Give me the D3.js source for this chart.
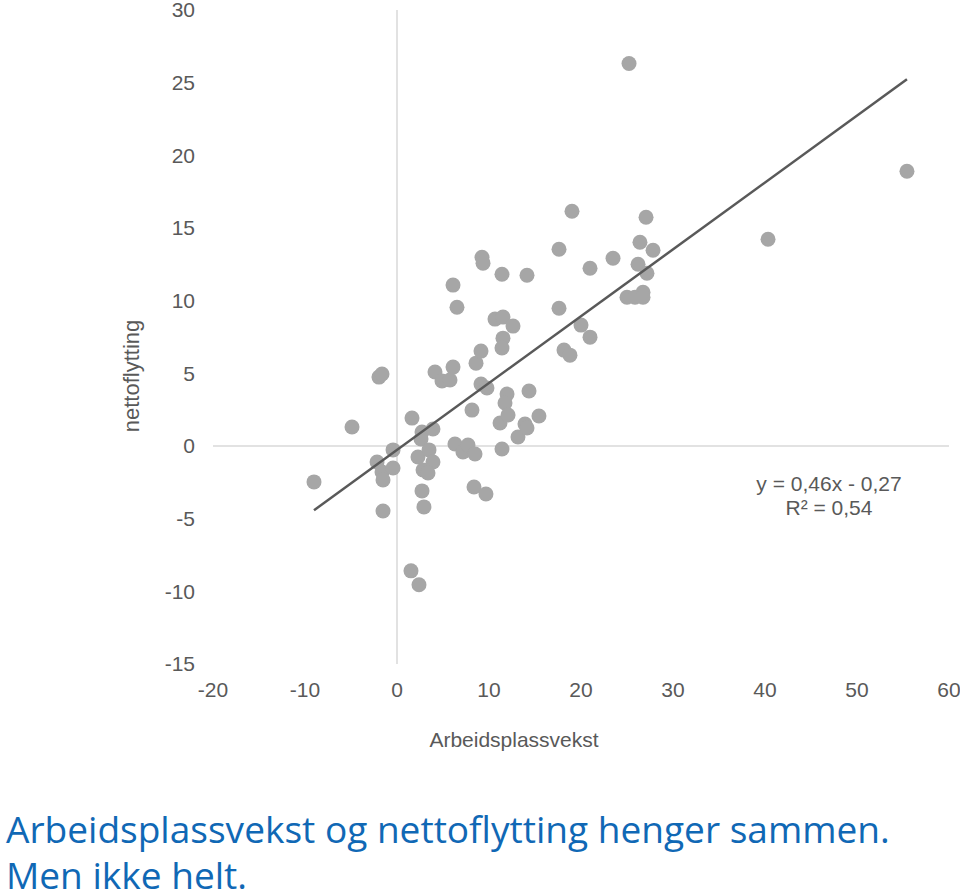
<!DOCTYPE html>
<html>
<head>
<meta charset="utf-8">
<script src="https://cdn.jsdelivr.net/npm/d3@7"></script>
<style>
  html, body { margin: 0; padding: 0; background: #fff; }
  svg { display: block; }
</style>
</head>
<body>
<svg id="chart" width="960" height="895"></svg>
<script>
// Data: Arbeidsplassvekst (x) vs nettoflytting (y)
const xValues = [-9.02,-4.89,-1.96,-1.63,-2.17,-1.63,-1.52,-1.52,-0.43,-0.43,1.63,1.52,2.39,2.28,2.72,2.61,3.91,3.48,3.91,2.83,3.37,2.72,2.93,4.13,4.89,5.76,6.09,6.30,7.17,7.72,8.48,8.37,9.67,11.41,11.20,13.15,8.15,9.13,9.78,8.59,9.13,11.96,11.74,12.07,14.35,15.43,13.91,14.13,11.52,11.41,10.65,11.52,12.61,6.52,6.09,9.24,9.35,11.41,14.13,17.61,19.02,17.61,18.15,18.80,20.0,20.98,20.98,23.48,25.0,25.87,26.74,26.74,26.20,27.17,26.41,27.07,27.83,25.22,40.33,55.43];
const yValues = [-2.47,1.31,4.74,4.95,-1.10,-1.79,-2.34,-4.47,-0.27,-1.51,1.92,-8.59,-9.55,-0.76,0.96,0.48,1.17,-0.27,-1.10,-1.65,-1.86,-3.09,-4.19,5.09,4.47,4.54,5.43,0.14,-0.41,0.07,-0.55,-2.82,-3.30,-0.21,1.58,0.62,2.47,4.26,3.99,5.70,6.53,3.57,2.96,2.13,3.78,2.06,1.51,1.24,7.42,6.74,8.73,8.87,8.25,9.55,11.07,12.99,12.58,11.82,11.75,13.54,16.15,9.48,6.60,6.25,8.32,7.49,12.23,12.92,10.24,10.24,10.58,10.24,12.51,11.89,14.02,15.74,13.47,26.32,14.23,18.90];
const xTicks = [-20,-10,0,10,20,30,40,50,60];
const yTicks = [-15,-10,-5,0,5,10,15,20,25,30];
const trendSlope = 0.46;
const trendIntercept = -0.27;
const equationLines = ["y = 0,46x - 0,27", "R² = 0,54"];
const xTitle = "Arbeidsplassvekst";
const yTitle = "nettoflytting";
const captionLines = ["Arbeidsplassvekst og nettoflytting henger sammen.", "Men ikke helt."];

const points = xValues.map((x, i) => ({x, y: yValues[i]}));

const svg = d3.select("#chart");
const font = "'Liberation Sans', Arial, sans-serif";
const textColor = "#595959";
const fsz = 21;

const x = d3.scaleLinear().domain([-20, 60]).range([213, 949]);
const y = d3.scaleLinear().domain([-15, 30]).range([664, 10]);

// zero axis lines
svg.append("line")
  .attr("x1", x(0)).attr("x2", x(0))
  .attr("y1", y(30)).attr("y2", y(-15))
  .attr("stroke", "#d9d9d9").attr("stroke-width", 1.5);
svg.append("line")
  .attr("x1", x(-20)).attr("x2", x(60))
  .attr("y1", y(0)).attr("y2", y(0))
  .attr("stroke", "#d9d9d9").attr("stroke-width", 1.5);

// Y tick labels
svg.append("g").selectAll("text").data(yTicks).join("text")
  .attr("x", 195)
  .attr("y", d => y(d))
  .attr("dy", "0.35em")
  .attr("text-anchor", "end")
  .attr("font-family", font)
  .attr("font-size", fsz)
  .attr("fill", textColor)
  .text(d => d);

// X tick labels
svg.append("g").selectAll("text").data(xTicks).join("text")
  .attr("x", d => x(d))
  .attr("y", 690)
  .attr("dy", "0.35em")
  .attr("text-anchor", "middle")
  .attr("font-family", font)
  .attr("font-size", fsz)
  .attr("fill", textColor)
  .text(d => d);

// Points
svg.append("g").selectAll("circle").data(points).join("circle")
  .attr("cx", d => x(d.x))
  .attr("cy", d => y(d.y))
  .attr("r", 7.5)
  .attr("fill", "#a6a6a6");

// Trend line
const xMin = d3.min(xValues), xMax = d3.max(xValues);
svg.append("line")
  .attr("x1", x(xMin)).attr("y1", y(trendSlope * xMin + trendIntercept))
  .attr("x2", x(xMax)).attr("y2", y(trendSlope * xMax + trendIntercept))
  .attr("stroke", "#595959").attr("stroke-width", 2.5);

// Equation
svg.append("g").selectAll("text").data(equationLines).join("text")
  .attr("x", 829)
  .attr("y", (d, i) => 484 + i * 24)
  .attr("dy", "0.35em")
  .attr("text-anchor", "middle")
  .attr("font-family", font)
  .attr("font-size", fsz)
  .attr("fill", textColor)
  .text(d => d);

// Axis titles
svg.append("text")
  .attr("x", 514).attr("y", 740).attr("dy", "0.35em")
  .attr("text-anchor", "middle")
  .attr("font-family", font).attr("font-size", fsz)
  .attr("fill", textColor)
  .text(xTitle);
svg.append("text")
  .attr("transform", "translate(131,376) rotate(-90)")
  .attr("dy", "0.35em")
  .attr("text-anchor", "middle")
  .attr("font-family", font).attr("font-size", 22)
  .attr("fill", textColor)
  .text(yTitle);

// Caption
const cap = svg.append("g").selectAll("text").data(captionLines).join("text")
  .attr("x", 6)
  .attr("y", (d, i) => 843 + i * 46)
  .attr("font-family", "'Open Sans', 'Noto Sans', sans-serif")
  .attr("font-size", 36)
  .attr("fill", "#1068b5")
  .text(d => d);
// fit first caption line to reference width (~884px)
const w0 = cap.nodes()[0].getComputedTextLength();
const fs = 36 * 884 / w0;
cap.attr("font-size", fs);
</script>
</body>
</html>
